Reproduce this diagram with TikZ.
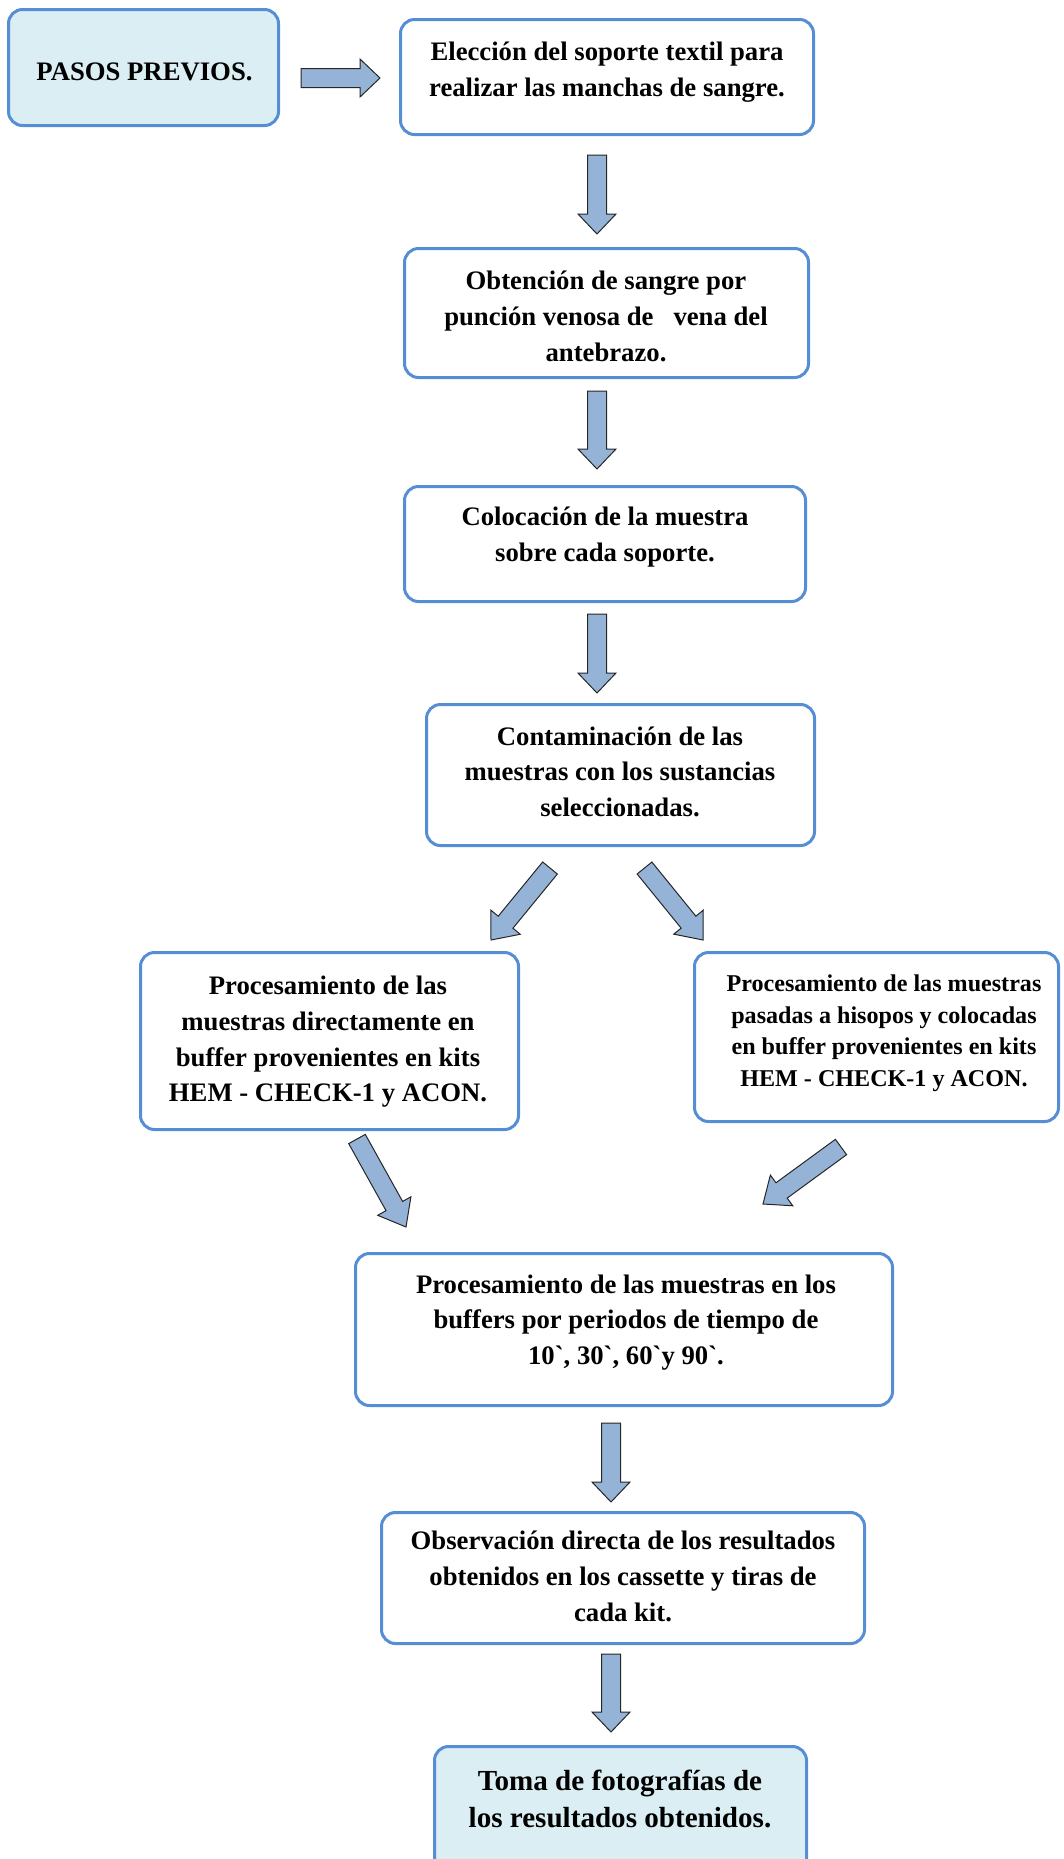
\documentclass[tikz,border=0pt]{standalone}
\usepackage{fontspec}
\setmainfont{Liberation Serif}
\usetikzlibrary{calc}

\definecolor{boxblue}{RGB}{85,142,213}
\definecolor{arrowblue}{RGB}{149,179,215}
\definecolor{paleaqua}{RGB}{218,238,243}

% Block arrow from a start coordinate to a tip coordinate (#3 = head length)
\newcommand\flowarrow[3]{%
  \coordinate (#1-base) at ($(#2)!#3!(#1)$);
  \filldraw[blockarrow]
    ($(#1)!4.75pt!90:(#2)$) -- ($(#1-base)!4.75pt!90:(#2)$) --
    ($(#1-base)!9.5pt!90:(#2)$) -- (#2) --
    ($(#1-base)!9.5pt!-90:(#2)$) -- ($(#1-base)!4.75pt!-90:(#2)$) --
    ($(#1)!4.75pt!-90:(#2)$) -- cycle;
}

\tikzset{
  stepbox/.style={draw=boxblue, line width=1.5pt, rounded corners=7pt, fill=white, inner sep=0pt},
  endbox/.style={stepbox, fill=paleaqua},
  steptext/.style={align=center, inner sep=0pt,
    font=\fontsize{13.35}{17.9}\selectfont\bfseries,
    execute at begin node=\strut, execute at end node=\strut},
  smalltext/.style={steptext, font=\fontsize{12.05}{15.85}\selectfont\bfseries},
  bigtext/.style={steptext, font=\fontsize{14.55}{18.8}\selectfont\bfseries},
  blockarrow/.style={fill=arrowblue, draw=black!85, line width=0.5pt, line join=miter},
}

\begin{document}
\begin{tikzpicture}[x=0.5pt, y=-0.5pt]
\useasboundingbox (0,0) rectangle (1064,1859);
\clip (0,0) rectangle (1064,1859);

% boxes
\node[endbox,  minimum width=135pt,   minimum height=58pt]   (prev)  at (143.5,67.5) {};
\node[stepbox, minimum width=206.5pt, minimum height=57.5pt] (tela)  at (607,77) {};
\node[stepbox, minimum width=202pt,   minimum height=64.5pt] (sang)  at (606.5,313) {};
\node[stepbox, minimum width=200.5pt, minimum height=57.5pt] (coloc) at (605,544) {};
\node[stepbox, minimum width=194pt,   minimum height=70.5pt] (cont)  at (620.5,775) {};
\node[stepbox, minimum width=189pt,   minimum height=88.5pt] (direc) at (329.5,1041) {};
\node[stepbox, minimum width=182pt,   minimum height=84.5pt] (hisop) at (876.5,1037) {};
\node[stepbox, minimum width=268.5pt, minimum height=76pt]   (buff)  at (624,1329.5) {};
\node[stepbox, minimum width=241.5pt, minimum height=65.5pt] (obs)   at (623,1578) {};
\node[endbox,  minimum width=186pt,   minimum height=63.5pt] (foto)  at (620.5,1810) {};

% texts
\node[steptext] (tprev)  at (144.5,73.6) {PASOS PREVIOS.};
\node[steptext] (ttela)  at (607,74.9) {Elección del soporte textil para\\realizar las manchas de sangre.};
\node[steptext] (tsang)  at (606,321.5) {Obtención de sangre por\\punción venosa de~~~vena del\\antebrazo.};
\node[steptext] (tcoloc) at (605,539.5) {Colocación de la muestra\\sobre cada soporte.};
\node[steptext] (tcont)  at (620,777) {Contaminación de las\\muestras con los sustancias\\seleccionadas.};
\node[steptext] (tdirec) at (328,1044.2) {Procesamiento de las\\muestras directamente en\\buffer provenientes en kits\\HEM - CHECK-1 y ACON.};
\node[smalltext] (thisop) at (884,1035.5) {Procesamiento de las muestras\\pasadas a hisopos y colocadas\\en buffer provenientes en kits\\HEM - CHECK-1 y ACON.};
\node[steptext] (tbuff)  at (626,1325) {Procesamiento de las muestras en los\\buffers por periodos de tiempo de\\10\textasciigrave, 30\textasciigrave, 60\textasciigrave y 90\textasciigrave.};
\node[steptext] (tobs)   at (623,1581.6) {Observación directa de los resultados\\obtenidos en los cassette y tiras de\\cada kit.};
\node[bigtext]  (tfoto)  at (620,1804.5) {Toma de fotografías de\\los resultados obtenidos.};

% arrow end points
\coordinate (a0s) at (301,78);    \coordinate (a0e) at (380,78);
\coordinate (a1s) at (597,155);   \coordinate (a1e) at (597,234);
\coordinate (a2s) at (597,391);   \coordinate (a2e) at (597,469);
\coordinate (a3s) at (597,614);   \coordinate (a3e) at (597,693);
\coordinate (a4s) at (550,868);   \coordinate (a4e) at (491,940);
\coordinate (a5s) at (644.5,868); \coordinate (a5e) at (703,940);
\coordinate (a6s) at (357,1139);  \coordinate (a6e) at (406,1227);
\coordinate (a7s) at (841,1147);  \coordinate (a7e) at (763,1204);
\coordinate (a8s) at (611,1423);  \coordinate (a8e) at (611,1502);
\coordinate (a9s) at (611,1654);  \coordinate (a9e) at (611,1732);

% block arrows
\flowarrow{a0s}{a0e}{10pt}
\flowarrow{a1s}{a1e}{10pt}
\flowarrow{a2s}{a2e}{10pt}
\flowarrow{a3s}{a3e}{10pt}
\flowarrow{a4s}{a4e}{11.5pt}
\flowarrow{a5s}{a5e}{11.5pt}
\flowarrow{a6s}{a6e}{12pt}
\flowarrow{a7s}{a7e}{11.5pt}
\flowarrow{a8s}{a8e}{10pt}
\flowarrow{a9s}{a9e}{10pt}
\end{tikzpicture}
\end{document}
